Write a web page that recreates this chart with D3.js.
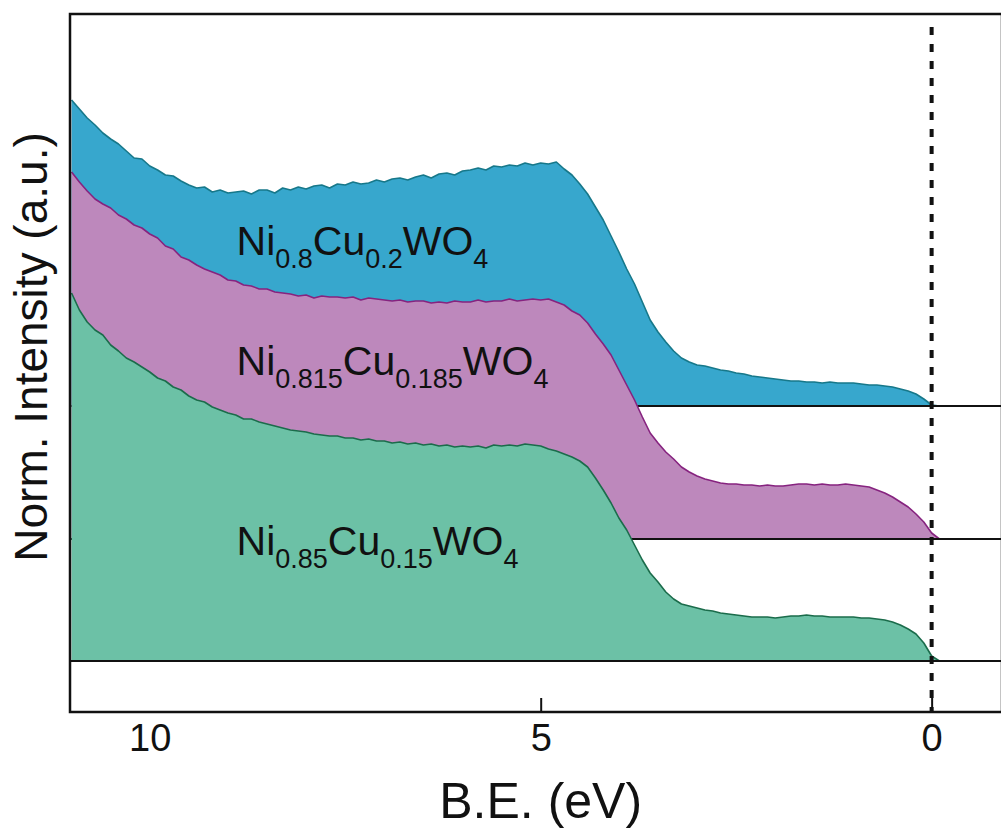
<!DOCTYPE html>
<html>
<head>
<meta charset="utf-8">
<script src="https://cdn.jsdelivr.net/npm/d3@7"></script>
<style>
  html, body { margin: 0; padding: 0; background: #ffffff; }
  svg { display: block; }
  text { font-family: "Liberation Sans", Arial, Helvetica, sans-serif; fill: #111; }
</style>
</head>
<body>
<svg id="chart" width="1001" height="832"></svg>
<script>
// Binding-energy sampling: 11.0 eV down to -0.9 eV in 0.1 eV steps
const energyStart = 11.0;
const energyStep = 0.1;
const energyCount = 120;

// Normalised valence-band intensities (a.u., above each trace's own baseline)
const blueValues = [
  3.06, 2.97, 2.88, 2.81, 2.73, 2.67, 2.62, 2.55, 2.48, 2.47,
  2.40, 2.36, 2.31, 2.30, 2.25, 2.21, 2.18, 2.19, 2.14, 2.16,
  2.13, 2.14, 2.15, 2.12, 2.16, 2.16, 2.13, 2.18, 2.16, 2.19,
  2.17, 2.20, 2.21, 2.18, 2.22, 2.21, 2.24, 2.22, 2.23, 2.26,
  2.24, 2.27, 2.28, 2.26, 2.29, 2.31, 2.28, 2.32, 2.33, 2.31,
  2.35, 2.36, 2.38, 2.36, 2.40, 2.39, 2.41, 2.40, 2.43, 2.41,
  2.43, 2.42, 2.44, 2.37, 2.31, 2.22, 2.12, 1.99, 1.86, 1.70,
  1.54, 1.37, 1.22, 1.04, 0.86, 0.74, 0.64, 0.55, 0.48, 0.44,
  0.41, 0.40, 0.38, 0.36, 0.35, 0.33, 0.32, 0.30, 0.29, 0.28,
  0.27, 0.26, 0.25, 0.25, 0.24, 0.24, 0.23, 0.24, 0.23, 0.23,
  0.23, 0.22, 0.21, 0.21, 0.20, 0.19, 0.17, 0.15, 0.12, 0.07,
  0.01, 0.00, 0.00, 0.00, 0.00, 0.00, 0.00, 0.00, 0.00, 0.00
];
const purpleValues = [
  3.67, 3.57, 3.48, 3.40, 3.35, 3.31, 3.24, 3.20, 3.14, 3.11,
  3.05, 3.01, 2.93, 2.90, 2.82, 2.79, 2.74, 2.70, 2.67, 2.64,
  2.59, 2.58, 2.54, 2.53, 2.50, 2.50, 2.47, 2.46, 2.45, 2.43,
  2.44, 2.41, 2.43, 2.42, 2.42, 2.41, 2.42, 2.39, 2.41, 2.40,
  2.39, 2.38, 2.39, 2.37, 2.38, 2.38, 2.36, 2.37, 2.36, 2.38,
  2.37, 2.37, 2.39, 2.37, 2.38, 2.38, 2.40, 2.38, 2.39, 2.40,
  2.39, 2.40, 2.37, 2.34, 2.28, 2.24, 2.16, 2.05, 1.95, 1.84,
  1.69, 1.54, 1.39, 1.22, 1.06, 0.96, 0.87, 0.80, 0.72, 0.67,
  0.63, 0.60, 0.58, 0.56, 0.55, 0.55, 0.54, 0.54, 0.53, 0.54,
  0.53, 0.53, 0.54, 0.55, 0.55, 0.54, 0.55, 0.54, 0.54, 0.55,
  0.54, 0.53, 0.52, 0.49, 0.46, 0.42, 0.37, 0.32, 0.25, 0.17,
  0.06, 0.00, 0.00, 0.00, 0.00, 0.00, 0.00, 0.00, 0.00, 0.00
];
const greenValues = [
  3.68, 3.51, 3.39, 3.31, 3.26, 3.16, 3.10, 3.03, 2.99, 2.94,
  2.89, 2.83, 2.80, 2.74, 2.71, 2.65, 2.61, 2.59, 2.54, 2.51,
  2.48, 2.46, 2.42, 2.42, 2.39, 2.37, 2.35, 2.33, 2.31, 2.30,
  2.29, 2.27, 2.26, 2.25, 2.25, 2.23, 2.23, 2.21, 2.22, 2.20,
  2.20, 2.18, 2.19, 2.17, 2.18, 2.16, 2.17, 2.15, 2.16, 2.14,
  2.15, 2.14, 2.15, 2.13, 2.16, 2.15, 2.16, 2.15, 2.17, 2.16,
  2.15, 2.12, 2.10, 2.07, 2.04, 2.00, 1.94, 1.83, 1.71, 1.58,
  1.43, 1.31, 1.16, 1.01, 0.88, 0.79, 0.69, 0.62, 0.57, 0.55,
  0.53, 0.51, 0.50, 0.48, 0.47, 0.46, 0.45, 0.44, 0.44, 0.44,
  0.43, 0.44, 0.45, 0.45, 0.46, 0.45, 0.45, 0.44, 0.44, 0.44,
  0.44, 0.43, 0.43, 0.42, 0.41, 0.39, 0.36, 0.32, 0.27, 0.18,
  0.05, 0.00, 0.00, 0.00, 0.00, 0.00, 0.00, 0.00, 0.00, 0.00
];

// Vertical stacking offset of each trace (a.u.)
const seriesNames = ["Ni0.8Cu0.2WO4", "Ni0.815Cu0.185WO4", "Ni0.85Cu0.15WO4"];
const seriesOffsets = [2.55, 1.22, 0.0];
const seriesFills = ["#37a7cd", "#bd88bc", "#6cc1a6"];
const seriesStrokes = ["#17788a", "#86237f", "#1b6c4b"];

// Formula labels: [text, isSubscript] pieces
const labelParts = [
  [["Ni", 0], ["0.8", 1], ["Cu", 0], ["0.2", 1], ["WO", 0], ["4", 1]],
  [["Ni", 0], ["0.815", 1], ["Cu", 0], ["0.185", 1], ["WO", 0], ["4", 1]],
  [["Ni", 0], ["0.85", 1], ["Cu", 0], ["0.15", 1], ["WO", 0], ["4", 1]]
];
const labelEnergy = 8.89;
const labelLevels = [4.06, 2.86, 1.06];

const tickValues = [10, 5, 0];
const tickMarks = [5, 0];
const xTitle = "B.E. (eV)";
const yTitle = "Norm. Intensity (a.u.)";
const fermiLevel = 0;

const energies = d3.range(energyCount).map(i => +(energyStart - i * energyStep).toFixed(1));
const valueSets = [blueValues, purpleValues, greenValues];

const plot = { left: 70, top: 14, right: 1002, bottom: 712 };
const svg = d3.select("#chart");

const x = d3.scaleLinear().domain([11.02, -0.9]).range([plot.left, plot.right]);
const y = d3.scaleLinear().domain([-0.51, 6.47]).range([plot.bottom, plot.top]);

svg.append("defs").append("clipPath").attr("id", "plotClip")
  .append("rect")
  .attr("x", plot.left).attr("y", plot.top)
  .attr("width", plot.right - plot.left).attr("height", plot.bottom - plot.top);

const g = svg.append("g").attr("clip-path", "url(#plotClip)");

valueSets.forEach((vals, k) => {
  const off = seriesOffsets[k];
  const data = energies.map((e, i) => ({ e, v: vals[i] }));
  const area = d3.area()
    .x(d => x(d.e))
    .y0(y(off))
    .y1(d => y(off + d.v));
  const line = d3.line()
    .x(d => x(d.e))
    .y(d => y(off + d.v));

  g.append("path").datum(data)
    .attr("d", area)
    .attr("fill", seriesFills[k]);
  g.append("path").datum(data)
    .attr("d", line)
    .attr("fill", "none")
    .attr("stroke", seriesStrokes[k])
    .attr("stroke-width", 1.6)
    .attr("stroke-linejoin", "round");
  // baseline of this trace
  g.append("line")
    .attr("x1", plot.left).attr("x2", plot.right)
    .attr("y1", y(off)).attr("y2", y(off))
    .attr("stroke", "#111").attr("stroke-width", 2);
});

// Formula labels
labelParts.forEach((parts, k) => {
  const t = svg.append("text")
    .attr("x", x(labelEnergy))
    .attr("y", y(labelLevels[k]))
    .attr("font-size", 41);
  let prevSub = 0;
  parts.forEach(([txt, sub]) => {
    const dy = sub === prevSub ? 0 : (sub ? 13 : -13);
    t.append("tspan")
      .attr("dy", dy)
      .attr("font-size", sub ? 27 : 41)
      .text(txt);
    prevSub = sub;
  });
});

// Fermi level marker
svg.append("line")
  .attr("x1", x(fermiLevel)).attr("x2", x(fermiLevel))
  .attr("y1", 27).attr("y2", plot.bottom)
  .attr("stroke", "#111")
  .attr("stroke-width", 4)
  .attr("stroke-dasharray", "8,9");

// Axis tick labels
const axis = svg.append("g")
  .attr("transform", `translate(0,${plot.bottom})`)
  .call(d3.axisBottom(x).tickValues(tickValues).tickSize(0).tickFormat(d3.format("d")));
axis.select(".domain").remove();
axis.selectAll("text")
  .attr("y", 39).attr("dy", 0)
  .attr("font-size", 38)
  .attr("fill", "#111")
  .style("font-family", "'Liberation Sans', Arial, sans-serif");

// Inward tick marks
const tickAxis = svg.append("g")
  .attr("transform", `translate(0,${plot.bottom})`)
  .call(d3.axisBottom(x).tickValues(tickMarks).tickSizeInner(-14).tickSizeOuter(0).tickFormat(""));
tickAxis.select(".domain").remove();
tickAxis.selectAll("line").attr("stroke", "#111").attr("stroke-width", 2);

// Frame
svg.append("rect")
  .attr("x", plot.left).attr("y", plot.top)
  .attr("width", plot.right - plot.left).attr("height", plot.bottom - plot.top)
  .attr("fill", "none").attr("stroke", "#111").attr("stroke-width", 2.5);

// Axis titles
svg.append("text")
  .attr("x", x(5)).attr("y", 818)
  .attr("text-anchor", "middle")
  .attr("font-size", 50)
  .text(xTitle);

svg.append("text")
  .attr("transform", `translate(47,${(plot.top + plot.bottom) / 2 - 16}) rotate(-90)`)
  .attr("text-anchor", "middle")
  .attr("font-size", 46)
  .text(yTitle);
</script>
</body>
</html>
